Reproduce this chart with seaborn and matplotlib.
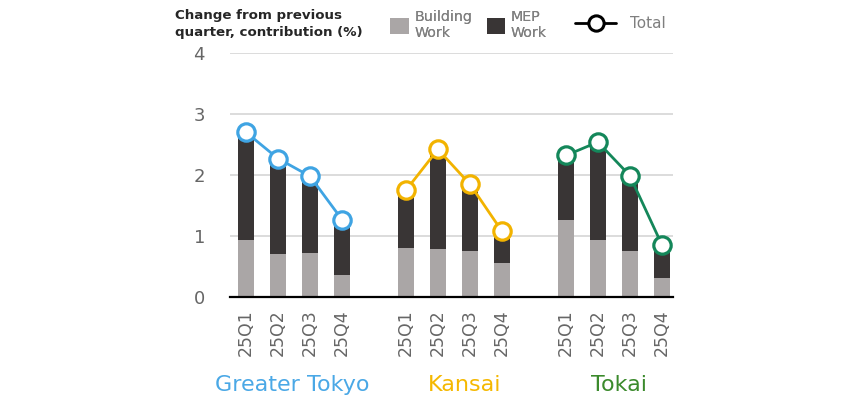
import matplotlib
matplotlib.use("Agg")
import matplotlib.pyplot as plt
import seaborn as sns
import pandas as pd
from matplotlib.patches import Patch
from matplotlib.lines import Line2D

regions = ["Greater Tokyo", "Kansai", "Tokai"]
quarters = ["25Q1", "25Q2", "25Q3", "25Q4"]
building = [0.94, 0.70, 0.72, 0.36,
            0.81, 0.79, 0.75, 0.55,
            1.27, 0.94, 0.76, 0.31]
mep = [1.71, 1.50, 1.18, 0.84,
       0.88, 1.55, 1.02, 0.46,
       0.97, 1.52, 1.14, 0.47]
total = [2.70, 2.27, 1.98, 1.27,
         1.75, 2.42, 1.85, 1.08,
         2.32, 2.54, 1.99, 0.86]
region_colors = ["#3fa4e3", "#f2b300", "#14875a"]
label_colors = ["#4aa8e6", "#f5b800", "#3b8a2c"]

sns.set_theme(style="white")
plt.rcParams["font.family"] = ["DejaVu Sans"]

rows = []
for gi, r in enumerate(regions):
    for qi, q in enumerate(quarters):
        i = gi * 4 + qi
        rows.append(dict(region=r, quarter=q, pos=gi * 5 + qi,
                         building=building[i], mep=mep[i],
                         stack=building[i] + mep[i], total=total[i]))
df = pd.DataFrame(rows)

fig = plt.figure(figsize=(8.5, 4.05), dpi=100)
ax = fig.add_axes([230 / 850, 1 - 297 / 405, (673 - 230) / 850, (297 - 53) / 405])

ax.set_axisbelow(True)
ax.yaxis.grid(True, color="#d9d9d9", linewidth=1.3)
ax.xaxis.grid(False)

dark = "#393535"
light = "#aaa6a6"
sns.barplot(data=df, x="pos", y="stack", native_scale=True, width=0.5,
            color=dark, saturation=1, ax=ax, linewidth=0, zorder=2)
sns.barplot(data=df, x="pos", y="building", native_scale=True, width=0.5,
            color=light, saturation=1, ax=ax, linewidth=0, zorder=2)

for r, c in zip(regions, region_colors):
    sub = df[df.region == r]
    sns.lineplot(data=sub, x="pos", y="total", color=c, ax=ax, linewidth=2,
                 marker="o", markersize=12.5, markerfacecolor="white",
                 markeredgecolor=c, markeredgewidth=2.3, zorder=4)

ax.set_xlim(-0.5, 13.35)
ax.set_ylim(0, 4)
ax.set_yticks([0, 1, 2, 3, 4])
ax.set_xticks(df.pos)
ax.set_xticklabels(df.quarter, rotation=90)
ax.set_xlabel("")
ax.set_ylabel("")
ax.tick_params(axis="y", length=0, pad=18, labelsize=13, labelcolor="#666666")
ax.tick_params(axis="x", length=0, pad=9, labelsize=12.5, labelcolor="#666666")
for s in ["left", "right", "top"]:
    ax.spines[s].set_visible(False)
ax.spines["bottom"].set_color("black")
ax.spines["bottom"].set_linewidth(1.6)

label_x = [1.45, 6.85, 11.65]
for r, c, x in zip(regions, label_colors, label_x):
    ax.text(x, -0.36, r, transform=ax.get_xaxis_transform(), ha="center",
            va="center", fontsize=16, color=c)

fig.text(175 / 850, 1 - 24 / 405, "Change from previous\nquarter, contribution (%)",
         ha="left", va="center", fontsize=9.6, fontweight="semibold",
         color="#262626", linespacing=1.4)

h1 = [Patch(facecolor=light, edgecolor="none"), Patch(facecolor=dark, edgecolor="none")]
leg1 = fig.legend(h1, ["Building\nWork", "MEP\nWork"], ncol=2, frameon=False,
                  loc="center left", bbox_to_anchor=(390 / 850, 1 - 25 / 405),
                  fontsize=10.3, labelcolor="#7f7f7f", handlelength=1.3,
                  handleheight=1.3, handletextpad=0.4, columnspacing=1.0,
                  borderpad=0, borderaxespad=0)
h2 = [Line2D([0], [0], color="black", linewidth=2, marker="o", markersize=11,
             markerfacecolor="white", markeredgewidth=2.2)]
leg2 = fig.legend(h2, ["Total"], frameon=False, loc="center left",
                  bbox_to_anchor=(575 / 850, 1 - 24 / 405), fontsize=11,
                  labelcolor="#7f7f7f", handlelength=2.7, handletextpad=0.9,
                  borderpad=0, borderaxespad=0)
fig.add_artist(leg1)

fig.savefig("out.png", dpi=100)
